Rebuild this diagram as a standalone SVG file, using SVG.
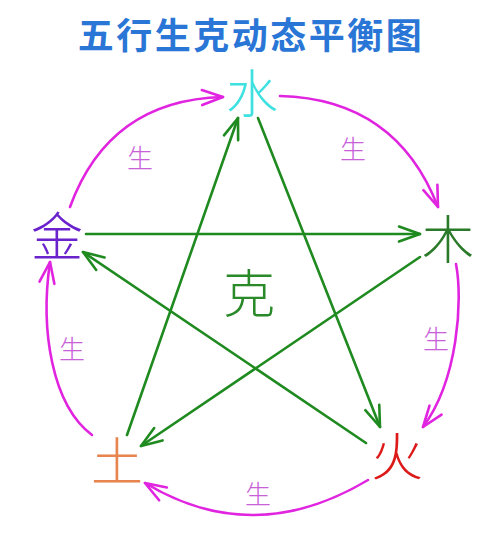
<svg xmlns="http://www.w3.org/2000/svg" width="500" height="543" viewBox="0 0 500 543">
<style>
.cjk{font-family:"Noto Sans CJK SC","Noto Sans CJK JP",sans-serif;text-anchor:middle;dominant-baseline:central}
.node{font-size:52px;font-weight:300}
.lbl{font-size:26px;font-weight:300;fill:#c860d8}
.arc{fill:none;stroke:#e024e0;stroke-width:2.6;stroke-linecap:round;marker-end:url(#am)}
.ke{fill:none;stroke:#1f8a1f;stroke-width:2.6;stroke-linecap:round;marker-end:url(#ag)}
</style>
<defs>
<marker id="ag" markerUnits="userSpaceOnUse" viewBox="-26 -13 30 26" refX="0" refY="0" markerWidth="30" markerHeight="26" orient="auto">
<path d="M-21,-7.5 L0,0 L-21,7.5" fill="none" stroke="#1f8a1f" stroke-width="2.6" stroke-linejoin="round" stroke-linecap="round"/>
</marker>
<marker id="am" markerUnits="userSpaceOnUse" viewBox="-26 -13 30 26" refX="0" refY="0" markerWidth="30" markerHeight="26" orient="auto">
<path d="M-21,-7.5 L0,0 L-21,7.5" fill="none" stroke="#e024e0" stroke-width="2.6" stroke-linejoin="round" stroke-linecap="round"/>
</marker>
</defs>
<rect width="500" height="543" fill="#ffffff"/>
<text id="title" x="251" y="33" class="cjk" style="font-size:36px;font-weight:bold;letter-spacing:2.5px" fill="#2a76d6">五行生克动态平衡图</text>
<g id="connectors">
<path class="arc" d="M70,207 Q109,100 223,97"/>
<path class="arc" d="M280,96 Q396,99 438,207"/>
<path class="arc" d="M456,264 C463,300 458,380 423,427"/>
<path class="arc" d="M368,480 Q253.5,548.5 145,483"/>
<path class="arc" d="M92,435 C52,405 40,330 50,262"/>
<path class="ke" d="M86,234 L420,234"/>
<path class="ke" d="M127,435 L238,118"/>
<path class="ke" d="M258,118 L380,427"/>
<path class="ke" d="M366,443 L83,252"/>
<path class="ke" d="M420,257 L141,446"/>
<text class="cjk lbl" x="140" y="156">生</text>
<text class="cjk lbl" x="353" y="147">生</text>
<text class="cjk lbl" x="436" y="337">生</text>
<text class="cjk lbl" x="258" y="492">生</text>
<text class="cjk lbl" x="72" y="347">生</text>
</g>
<g id="water"><text class="cjk node" x="252" y="90" fill="#3fe0e0">水</text></g>
<g id="wood"><text class="cjk node" x="448" y="236" fill="#2a7a2a">木</text></g>
<g id="fire"><text class="cjk node" x="397" y="453" fill="#dd1a1a">火</text></g>
<g id="earth"><text class="cjk node" x="117" y="458" fill="#e8844e">土</text></g>
<g id="metal"><text class="cjk node" x="57" y="233" fill="#6a22cc">金</text></g>
<g id="ke"><text class="cjk node" x="249" y="290" fill="#2a8a2a">克</text></g>
</svg>
